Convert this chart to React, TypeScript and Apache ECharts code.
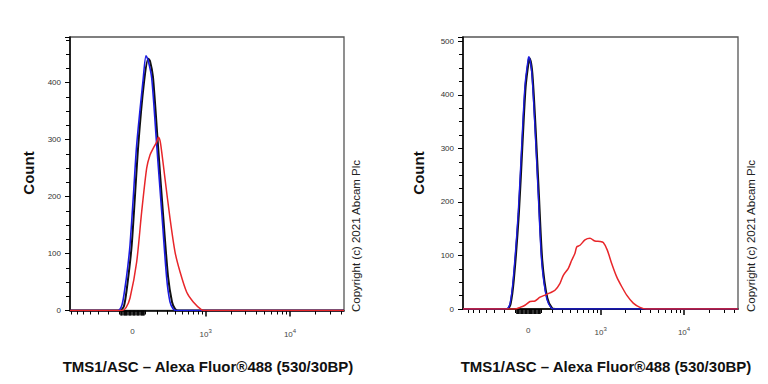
import React, { useEffect, useRef } from 'react';
import * as echarts from 'echarts';

const FONT = '"Liberation Sans", Arial, Helvetica, sans-serif';

// ---- Axis transform (biexponential-like display, decades: 10^3 -> 3) ----
const BIEX_C = 280;
const toDisplay = (v: number) => Math.log10(BIEX_C / 2) + Math.asinh(v / BIEX_C) / Math.LN10;

// tick raw values
const LABEL_RAW = [0, 1000, 10000];
const LABEL_TEXT = ['0', '10{s|3}', '10{s|4}'];
const ZERO_CLUSTER_RAW = [-90, -80, -70, -60, -50, -40, -30, -20, -10, 0, 10, 20, 30, 40, 50, 60, 70, 80, 90];
const MINOR_RAW = [
  -700, -600, -500, -400, -300, -200, -100,
  100, 200, 300, 400, 500, 600, 700, 800, 900,
  2000, 3000, 4000, 5000, 6000, 7000, 8000, 9000,
  20000, 30000, 40000,
];
const Y_TICK_LABELS_LEFT = [0, 100, 200, 300, 400];
const Y_TICK_LABELS_RIGHT = [0, 100, 200, 300, 400, 500];

// ---- Axis ranges (display units) ----
const LEFT_X_RANGE = [1.412, 4.635];
const RIGHT_X_RANGE = [1.369, 4.643];
const LEFT_Y_MAX = 480;
const RIGHT_Y_MAX = 508;

// ---- Data: left panel ----
const LEFT_BLACK_X = [2.0, 2.047, 2.082, 2.138, 2.215, 2.282, 2.333, 2.353, 2.388, 2.447, 2.506, 2.565, 2.612, 2.647, 2.682];
const LEFT_BLACK_Y = [0, 8, 40, 115, 290, 400, 442, 438, 410, 290, 170, 60, 15, 3, 0];
const LEFT_BLUE_X = [1.976, 2.024, 2.059, 2.09, 2.118, 2.157, 2.196, 2.274, 2.306, 2.329, 2.373, 2.432, 2.491, 2.549, 2.588, 2.624, 2.659];
const LEFT_BLUE_Y = [0, 10, 40, 75, 115, 200, 290, 408, 447, 440, 408, 290, 173, 57, 15, 3, 0];
const LEFT_RED_X = [2.024, 2.071, 2.118, 2.196, 2.255, 2.314, 2.353, 2.392, 2.432, 2.451, 2.471, 2.491, 2.529, 2.588, 2.647, 2.706, 2.785, 2.862, 2.961, 3.0];
const LEFT_RED_Y = [0, 5, 22, 85, 173, 250, 273, 285, 296, 304, 298, 278, 232, 162, 103, 68, 32, 15, 1, 0];

// ---- Data: right panel ----
const RIGHT_BLACK_X = [1.895, 1.935, 1.974, 2.033, 2.074, 2.113, 2.152, 2.161, 2.193, 2.232, 2.271, 2.312, 2.371, 2.431, 2.47];
const RIGHT_BLACK_Y = [0, 10, 56, 178, 302, 414, 465, 468, 441, 338, 215, 90, 21, 1, 0];
const RIGHT_BLUE_X = [1.889, 1.929, 1.968, 2.027, 2.068, 2.107, 2.146, 2.155, 2.187, 2.226, 2.265, 2.306, 2.365, 2.425, 2.464];
const RIGHT_BLUE_Y = [0, 10, 58, 181, 306, 418, 468, 471, 443, 338, 213, 88, 20, 1, 0];
const RIGHT_RED_X = [1.988, 2.048, 2.107, 2.167, 2.226, 2.286, 2.345, 2.405, 2.464, 2.524, 2.563, 2.623, 2.663, 2.702, 2.723, 2.762, 2.821, 2.881, 2.94, 3.0, 3.039, 3.087, 3.139, 3.199, 3.258, 3.318, 3.396, 3.476, 3.556];
const RIGHT_RED_Y = [0, 3, 7, 14, 15, 22, 26, 30, 35, 48, 63, 76, 91, 104, 116, 119, 129, 132, 127, 126, 124, 110, 85, 60, 42, 26, 11, 3, 0];

const COLORS = { black: '#111111', blue: '#1c1ce0', red: '#e8262a' };
const TITLE = 'TMS1/ASC – Alexa Fluor®488 (530/30BP)';
const Y_NAME = 'Count';
const COPYRIGHT = 'Copyright (c) 2021 Abcam Plc';

function pts(xs: number[], ys: number[], range: number[]) {
  return [[range[0], 0], ...xs.map((x, i) => [x, ys[i]]), [range[1], 0]];
}

const LABEL_POS = LABEL_RAW.map(toDisplay);
const CLUSTER_POS = ZERO_CLUSTER_RAW.map(toDisplay);
const MAJOR_POS = [toDisplay(1000), toDisplay(10000)];
const MINOR_POS = MINOR_RAW.map(toDisplay);

function xAxesFor(gridIndex: number, range: number[]) {
  const base = {
    type: 'value',
    gridIndex,
    min: range[0],
    max: range[1],
    position: 'bottom',
    splitLine: { show: false },
  };
  return [
    {
      ...base,
      axisLine: { show: true, onZero: false, lineStyle: { color: '#000', width: 1.5 } },
      axisTick: { show: true, customValues: MAJOR_POS, length: 6, lineStyle: { color: '#000', width: 1.5 } },
      axisLabel: {
        show: true,
        customValues: LABEL_POS,
        margin: 17,
        color: '#444',
        fontSize: 8,
        fontFamily: FONT,
        formatter: (v: number) => {
          const i = LABEL_POS.findIndex((p) => Math.abs(p - v) < 1e-6);
          return i >= 0 ? LABEL_TEXT[i] : '';
        },
        rich: { s: { fontSize: 6, color: '#444', fontFamily: FONT, padding: [0, 0, 7, 0] } },
      },
    },
    {
      ...base,
      axisLine: { show: false, onZero: false },
      axisTick: { show: true, customValues: MINOR_POS, length: 4, lineStyle: { color: '#000', width: 1 } },
      axisLabel: { show: false },
    },
    {
      ...base,
      axisLine: { show: false, onZero: false },
      axisTick: { show: true, customValues: CLUSTER_POS, length: 5, lineStyle: { color: '#000', width: 1.6 } },
      axisLabel: { show: false },
    },
  ];
}

function yAxisFor(gridIndex: number, max: number, labels: number[]) {
  return {
    type: 'value',
    gridIndex,
    min: 0,
    max,
    interval: 100,
    splitLine: { show: false },
    axisLine: { show: true, lineStyle: { color: '#000', width: 1.5 } },
    axisTick: { show: true, length: 5, lineStyle: { color: '#000', width: 1 } },
    minorTick: { show: true, splitNumber: 4, length: 4, lineStyle: { color: '#000', width: 1 } },
    minorSplitLine: { show: false },
    axisLabel: {
      show: true,
      customValues: labels,
      margin: 9,
      color: '#333',
      fontSize: 8,
      fontFamily: FONT,
    },
  };
}

function lineSeries(xAxisIndex: number, yAxisIndex: number, data: number[][], color: string, width: number) {
  return {
    type: 'line',
    xAxisIndex,
    yAxisIndex,
    data,
    showSymbol: false,
    smooth: 0.25,
    clip: true,
    lineStyle: { color, width },
    itemStyle: { color },
    emphasis: { disabled: true },
  };
}

export default function App() {
  const ref = useRef<HTMLDivElement>(null);
  useEffect(() => {
    if (!ref.current) return;
    const chart = echarts.init(ref.current, undefined, { renderer: 'svg' });
    const gridStyle = { show: true, borderColor: '#555', borderWidth: 1.3, backgroundColor: 'transparent' };
    chart.setOption({
      animation: false,
      backgroundColor: '#fff',
      grid: [
        { left: 70, top: 37, width: 274, height: 273.5, ...gridStyle },
        { left: 463, top: 37, width: 275, height: 272, ...gridStyle },
      ],
      xAxis: [...xAxesFor(0, LEFT_X_RANGE), ...xAxesFor(1, RIGHT_X_RANGE)],
      yAxis: [yAxisFor(0, LEFT_Y_MAX, Y_TICK_LABELS_LEFT), yAxisFor(1, RIGHT_Y_MAX, Y_TICK_LABELS_RIGHT)],
      series: [
        lineSeries(0, 0, pts(LEFT_BLACK_X, LEFT_BLACK_Y, LEFT_X_RANGE), COLORS.black, 2),
        lineSeries(0, 0, pts(LEFT_BLUE_X, LEFT_BLUE_Y, LEFT_X_RANGE), COLORS.blue, 1.6),
        lineSeries(0, 0, pts(LEFT_RED_X, LEFT_RED_Y, LEFT_X_RANGE), COLORS.red, 1.5),
        lineSeries(3, 1, pts(RIGHT_BLACK_X, RIGHT_BLACK_Y, RIGHT_X_RANGE), COLORS.black, 2.2),
        lineSeries(3, 1, pts(RIGHT_BLUE_X, RIGHT_BLUE_Y, RIGHT_X_RANGE), COLORS.blue, 1.4),
        lineSeries(3, 1, pts(RIGHT_RED_X, RIGHT_RED_Y, RIGHT_X_RANGE), COLORS.red, 1.5),
      ],
      graphic: [
        { type: 'text', x: 208, y: 366, style: { text: TITLE, fontFamily: FONT, fontSize: 15, fontWeight: 'bold', fill: '#111', align: 'center', verticalAlign: 'middle' } },
        { type: 'text', x: 606, y: 366, style: { text: TITLE, fontFamily: FONT, fontSize: 15, fontWeight: 'bold', fill: '#111', align: 'center', verticalAlign: 'middle' } },
        { type: 'text', x: 28, y: 173, rotation: Math.PI / 2, style: { text: Y_NAME, fontFamily: FONT, fontSize: 15, fontWeight: 'bold', fill: '#111', align: 'center', verticalAlign: 'middle' } },
        { type: 'text', x: 418.5, y: 173, rotation: Math.PI / 2, style: { text: Y_NAME, fontFamily: FONT, fontSize: 15, fontWeight: 'bold', fill: '#111', align: 'center', verticalAlign: 'middle' } },
        { type: 'text', x: 356, y: 236, rotation: Math.PI / 2, style: { text: COPYRIGHT, fontFamily: FONT, fontSize: 11.5, fill: '#222', align: 'center', verticalAlign: 'middle' } },
        { type: 'text', x: 751, y: 236, rotation: Math.PI / 2, style: { text: COPYRIGHT, fontFamily: FONT, fontSize: 11.5, fill: '#222', align: 'center', verticalAlign: 'middle' } },
      ],
    });
    return () => chart.dispose();
  }, []);
  return <div ref={ref} style={{ position: 'absolute', left: 0, top: 0, width: 768, height: 384 }} />;
}
